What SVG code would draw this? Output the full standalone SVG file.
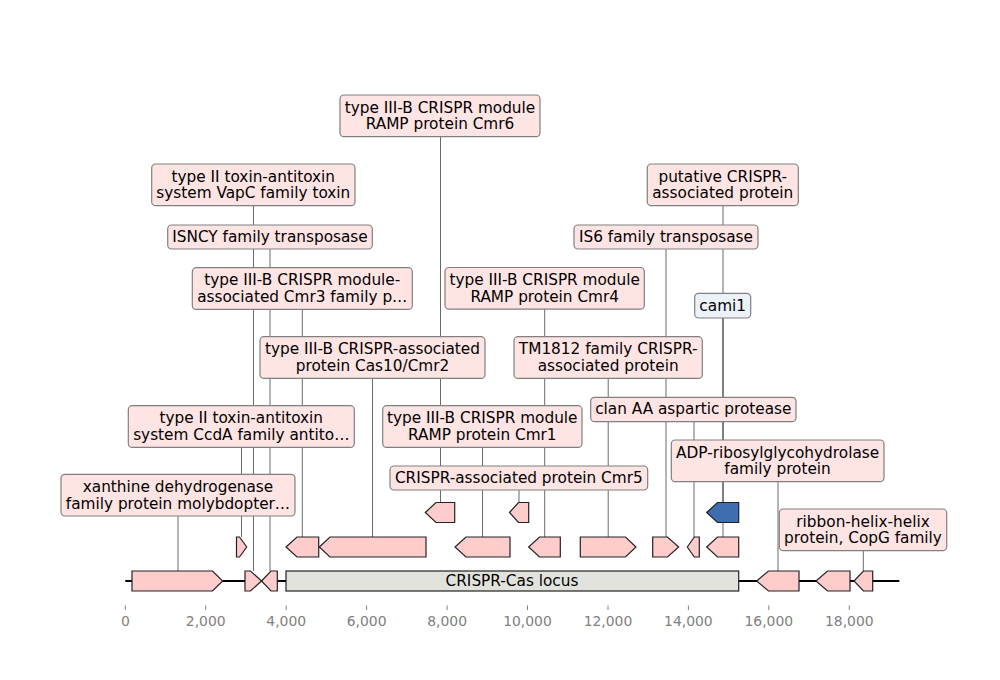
<svg xmlns="http://www.w3.org/2000/svg" width="1000" height="680" viewBox="0 0 1000 680">
<style>
text{font-family:"DejaVu Sans","Liberation Sans",sans-serif;font-size:15.3px;fill:#000;text-anchor:middle}
.lb{fill:#ffe4e4;stroke:#808080;stroke-width:1.2}
.lbb{fill:#edf1f8;stroke:#808080;stroke-width:1.2}
.g{fill:#ffcccc;stroke:#222;stroke-width:1.2;stroke-linejoin:miter}
.gb{fill:#3f6eae;stroke:#222;stroke-width:1.2}
.loc{fill:#e2e2dc;stroke:#222;stroke-width:1.2}
.cn line{stroke:#000;stroke-opacity:0.65;stroke-width:0.9}
.tk line{stroke:#808080;stroke-width:1}
.tk text{fill:#808080;font-size:13.9px}
</style>
<rect width="1000" height="680" fill="#fff"/>
<g id="axis" class="tk">
<line x1="125.3" y1="605.5" x2="125.3" y2="610"/><text x="125.3" y="626.3">0</text>
<line x1="205.7" y1="605.5" x2="205.7" y2="610"/><text x="205.7" y="626.3">2,000</text>
<line x1="286.2" y1="605.5" x2="286.2" y2="610"/><text x="286.2" y="626.3">4,000</text>
<line x1="366.6" y1="605.5" x2="366.6" y2="610"/><text x="366.6" y="626.3">6,000</text>
<line x1="447.1" y1="605.5" x2="447.1" y2="610"/><text x="447.1" y="626.3">8,000</text>
<line x1="527.5" y1="605.5" x2="527.5" y2="610"/><text x="527.5" y="626.3">10,000</text>
<line x1="608" y1="605.5" x2="608" y2="610"/><text x="608" y="626.3">12,000</text>
<line x1="688.4" y1="605.5" x2="688.4" y2="610"/><text x="688.4" y="626.3">14,000</text>
<line x1="768.8" y1="605.5" x2="768.8" y2="610"/><text x="768.8" y="626.3">16,000</text>
<line x1="849.3" y1="605.5" x2="849.3" y2="610"/><text x="849.3" y="626.3">18,000</text>
</g>
<g id="connectors" class="cn">
<line x1="440.5" y1="136.7" x2="440.5" y2="502.5"/>
<line x1="253.5" y1="206" x2="253.5" y2="571"/>
<line x1="270" y1="249" x2="270" y2="571"/>
<line x1="302.3" y1="309.3" x2="302.3" y2="537"/>
<line x1="544.7" y1="309" x2="544.7" y2="537"/>
<line x1="372.5" y1="378.3" x2="372.5" y2="537"/>
<line x1="608.2" y1="378.3" x2="608.2" y2="537"/>
<line x1="241.5" y1="447.3" x2="241.5" y2="537"/>
<line x1="482.5" y1="447.3" x2="482.5" y2="537"/>
<line x1="519" y1="490" x2="519" y2="502.5"/>
<line x1="178" y1="516" x2="178" y2="571"/>
<line x1="723" y1="205.7" x2="723" y2="537"/>
<line x1="666" y1="249" x2="666" y2="537"/>
<line x1="723" y1="318" x2="723" y2="502.5"/>
<line x1="694" y1="421.7" x2="694" y2="537"/>
<line x1="778" y1="481.7" x2="778" y2="571"/>
<line x1="863.3" y1="550.7" x2="863.3" y2="571"/>
</g>
<g id="backbone"><line x1="125.3" y1="581" x2="899.3" y2="581" stroke="#000" stroke-width="2"/></g>
<g id="genes">
<polygon id="g1" class="g" points="132,571 212.5,571 222.7,581 212.5,591 132,591"/>
<polygon id="g2" class="g" points="245,571 250.5,571 261.5,581 250.5,591 245,591"/>
<polygon id="g3" class="g" points="261.5,581 271,571 277.3,571 277.3,591 271,591"/>
<g id="locus"><rect class="loc" x="286" y="571" width="452.7" height="20"/><text x="512" y="586.4">CRISPR-Cas locus</text></g>
<polygon id="g4" class="g" points="756.7,581 768.5,571 799,571 799,591 768.5,591"/>
<polygon id="g5" class="g" points="816,581 827.5,571 850,571 850,591 827.5,591"/>
<polygon id="g6" class="g" points="854,581 863.5,571 872.7,571 872.7,591 863.5,591"/>
<polygon id="g7" class="g" points="236.5,537 239.5,537 246.7,547 239.5,557 236.5,557"/>
<polygon id="g8" class="g" points="286,547 297,537 318.7,537 318.7,557 297,557"/>
<polygon id="g9" class="g" points="319.3,547 330,537 426,537 426,557 330,557"/>
<polygon id="g10" class="g" points="455,547 466,537 510,537 510,557 466,557"/>
<polygon id="g11" class="g" points="528.7,547 539.5,537 560.3,537 560.3,557 539.5,557"/>
<polygon id="g12" class="g" points="580.3,537 625.5,537 636,547 625.5,557 580.3,557"/>
<polygon id="g13" class="g" points="652.7,537 667.5,537 678.7,547 667.5,557 652.7,557"/>
<polygon id="g14" class="g" points="687.3,547 694.3,537 699.3,537 699.3,557 694.3,557"/>
<polygon id="g15" class="g" points="706.7,547 717.5,537 738.7,537 738.7,557 717.5,557"/>
<polygon id="g16" class="g" points="425.3,512.5 436,502.5 454.7,502.5 454.7,522.5 436,522.5"/>
<polygon id="g17" class="g" points="509.5,512.5 518.5,502.5 528.7,502.5 528.7,522.5 518.5,522.5"/>
<polygon id="g18" class="gb" points="706.7,512.5 717.5,502.5 738.7,502.5 738.7,522.5 717.5,522.5"/>
</g>
<g id="labels">
<g id="l-cmr6"><rect class="lb" x="340" y="95" width="200" height="41.7" rx="4"/><text x="440" y="112.5">type III-B CRISPR module</text><text x="440" y="129.2">RAMP protein Cmr6</text></g>
<g id="l-vapc"><rect class="lb" x="151.7" y="164" width="203.3" height="41.7" rx="4"/><text x="253.3" y="181.5">type II toxin-antitoxin</text><text x="253.3" y="198.2">system VapC family toxin</text></g>
<g id="l-putative"><rect class="lb" x="647.3" y="164" width="151" height="41.7" rx="4"/><text x="722.8" y="181.5">putative CRISPR-</text><text x="722.8" y="198.2">associated protein</text></g>
<g id="l-isncy"><rect class="lb" x="167.7" y="225" width="204.6" height="24" rx="4"/><text x="270" y="241.8">ISNCY family transposase</text></g>
<g id="l-is6"><rect class="lb" x="574" y="225" width="184" height="24" rx="4"/><text x="666" y="241.8">IS6 family transposase</text></g>
<g id="l-cmr3"><rect class="lb" x="192.3" y="267.7" width="220" height="41.7" rx="4"/><text x="302.3" y="285.2">type III-B CRISPR module-</text><text x="302.3" y="301.9">associated Cmr3 family p…</text></g>
<g id="l-cmr4"><rect class="lb" x="445" y="267.5" width="199.3" height="41.7" rx="4"/><text x="544.7" y="285">type III-B CRISPR module</text><text x="544.7" y="301.7">RAMP protein Cmr4</text></g>
<g id="l-cami1"><rect class="lbb" x="694.7" y="293.3" width="56" height="24.7" rx="4"/><text x="722.7" y="310.6">cami1</text></g>
<g id="l-cas10"><rect class="lb" x="260" y="336.7" width="225" height="41.7" rx="4"/><text x="372.5" y="354.2">type III-B CRISPR-associated</text><text x="372.5" y="370.9">protein Cas10/Cmr2</text></g>
<g id="l-tm1812"><rect class="lb" x="514" y="336.7" width="188.3" height="41.7" rx="4"/><text x="608.2" y="354.2">TM1812 family CRISPR-</text><text x="608.2" y="370.9">associated protein</text></g>
<g id="l-clanaa"><rect class="lb" x="590.7" y="397.3" width="205.3" height="24.4" rx="4"/><text x="693.3" y="414.2">clan AA aspartic protease</text></g>
<g id="l-ccda"><rect class="lb" x="128.3" y="405.7" width="226" height="41.7" rx="4"/><text x="241.3" y="423.2">type II toxin-antitoxin</text><text x="241.3" y="439.9">system CcdA family antito…</text></g>
<g id="l-cmr1"><rect class="lb" x="382.7" y="405.7" width="199.3" height="41.7" rx="4"/><text x="482.3" y="423.2">type III-B CRISPR module</text><text x="482.3" y="439.9">RAMP protein Cmr1</text></g>
<g id="l-adp"><rect class="lb" x="671.3" y="440" width="212.7" height="41.7" rx="4"/><text x="777.6" y="457.5">ADP-ribosylglycohydrolase</text><text x="777.6" y="474.2">family protein</text></g>
<g id="l-cmr5"><rect class="lb" x="390" y="466" width="257.7" height="24" rx="4"/><text x="518.8" y="482.8">CRISPR-associated protein Cmr5</text></g>
<g id="l-xdh"><rect class="lb" x="61" y="474.3" width="234" height="41.7" rx="4"/><text x="178" y="491.8">xanthine dehydrogenase</text><text x="178" y="508.5">family protein molybdopter…</text></g>
<g id="l-rhh"><rect class="lb" x="779.3" y="509" width="167.4" height="41.7" rx="4"/><text x="863" y="526.5">ribbon-helix-helix</text><text x="863" y="543.2">protein, CopG family</text></g>
</g>
</svg>
